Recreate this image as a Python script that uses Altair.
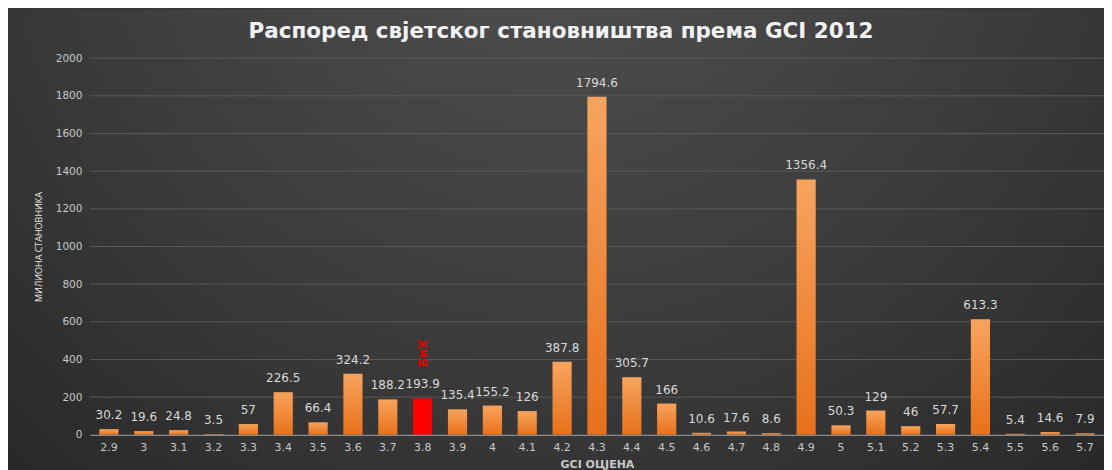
import altair as alt
import pandas as pd

categories = ["2.9", "3", "3.1", "3.2", "3.3", "3.4", "3.5", "3.6", "3.7", "3.8",
              "3.9", "4", "4.1", "4.2", "4.3", "4.4", "4.5", "4.6", "4.7", "4.8",
              "4.9", "5", "5.1", "5.2", "5.3", "5.4", "5.5", "5.6", "5.7"]
values = [30.2, 19.6, 24.8, 3.5, 57, 226.5, 66.4, 324.2, 188.2, 193.9,
          135.4, 155.2, 126, 387.8, 1794.6, 305.7, 166, 10.6, 17.6, 8.6,
          1356.4, 50.3, 129, 46, 57.7, 613.3, 5.4, 14.6, 7.9]
labels = ["30.2", "19.6", "24.8", "3.5", "57", "226.5", "66.4", "324.2", "188.2", "193.9",
          "135.4", "155.2", "126", "387.8", "1794.6", "305.7", "166", "10.6", "17.6", "8.6",
          "1356.4", "50.3", "129", "46", "57.7", "613.3", "5.4", "14.6", "7.9"]
y_ticks = [0, 200, 400, 600, 800, 1000, 1200, 1400, 1600, 1800, 2000]
grid_values = [200, 400, 600, 800, 1000, 1200, 1400, 1600, 1800, 2000]
highlight = "3.8"
highlight_label = "БиХ"

title_text = "Распоред свјетског становништва према GCI 2012"
y_title = "МИЛИОНА СТАНОВНИКА"
x_title = "GCI ОЦЈЕНА"

df = pd.DataFrame({"gci": categories, "pop": values, "label": labels})
df["note"] = [highlight_label if c == highlight else "" for c in categories]
grid_df = pd.DataFrame({"pop": grid_values})

W, H = 1015, 377
FONT = "DejaVu Sans"

bg_grad = alt.Gradient(
    gradient="radial",
    stops=[alt.GradientStop(color="#525252", offset=0),
           alt.GradientStop(color="#3a3a3a", offset=0.55),
           alt.GradientStop(color="#222222", offset=1)],
    x1=0.5, y1=0.15, r1=0, x2=0.5, y2=0.15, r2=0.85,
)
bar_grad = alt.Gradient(
    gradient="linear",
    stops=[alt.GradientStop(color="#f7a45e", offset=0),
           alt.GradientStop(color="#e8711a", offset=1)],
    x1=0, y1=0, x2=0, y2=1,
)

bg = alt.Chart(pd.DataFrame({"a": [0]})).mark_rect(clip=False, fill=bg_grad).encode(
    x=alt.value(-84), x2=alt.value(W), y=alt.value(-50), y2=alt.value(H + 50)
)

yscale = alt.Scale(domain=[0, 2000], nice=False)

xenc = alt.X(
    "gci:N",
    sort=categories,
    scale=alt.Scale(domain=categories, paddingInner=0.45, paddingOuter=0.27),
    title=x_title,
    axis=alt.Axis(labelAngle=0, ticks=False, labelPadding=7, labelFontSize=11,
                  labelColor="#c8c8c8", labelFont=FONT, zindex=1,
                  domainColor="#8c8c8c", domainWidth=1.2,
                  titleFont=FONT, titleFontSize=11, titleFontWeight="bold",
                  titleColor="#c8c8c8", titlePadding=6, grid=False),
)
yenc = alt.Y(
    "pop:Q",
    scale=yscale,
    title=y_title,
    axis=alt.Axis(values=y_ticks, format="d", ticks=False, domain=False, labelPadding=8,
                  labelFontSize=10.5, labelColor="#c8c8c8", labelFont=FONT,
                  grid=False, zindex=1,
                  titleFont="Open Sans", titleFontSize=9, titleFontWeight="normal",
                  titleColor="#e8e8e8", titlePadding=12),
)

grid = alt.Chart(grid_df).mark_rule(color="#585858", strokeWidth=1).encode(y=yenc)

base = alt.Chart(df)

bars = base.mark_bar(fill=bar_grad).encode(x=xenc, y=yenc).transform_filter(
    alt.datum.gci != highlight
)
red_bar = base.mark_bar(fill="#ff0000").encode(x=xenc, y=yenc).transform_filter(
    alt.datum.gci == highlight
)
text = base.mark_text(dy=-7, baseline="bottom", color="#d9d9d9", fontSize=12,
                      font=FONT).encode(x=xenc, y=yenc, text="label:N")
note = base.mark_text(angle=270, align="left", baseline="middle", dx=31,
                      color="#e00000", fontSize=12.5, fontWeight="bold",
                      font=FONT).encode(x=xenc, y=yenc, text="note:N").transform_filter(
    alt.datum.gci == highlight
)

chart = alt.layer(bg, grid, bars, red_bar, text, note).properties(
    width=W,
    height=H,
    title=alt.TitleParams(title_text, font=FONT, fontSize=21.5, fontWeight="bold",
                          color="#f2f2f2", anchor="middle", offset=-56, dx=-36,
                          baseline="bottom"),
    autosize=alt.AutoSizeParams(type="none"),
    padding={"left": 82, "top": 50, "right": 0, "bottom": 40},
).configure(background="#2b2b2b").configure_view(stroke=None)

chart.save("out.html", embed_options={"renderer": "svg", "actions": False})
